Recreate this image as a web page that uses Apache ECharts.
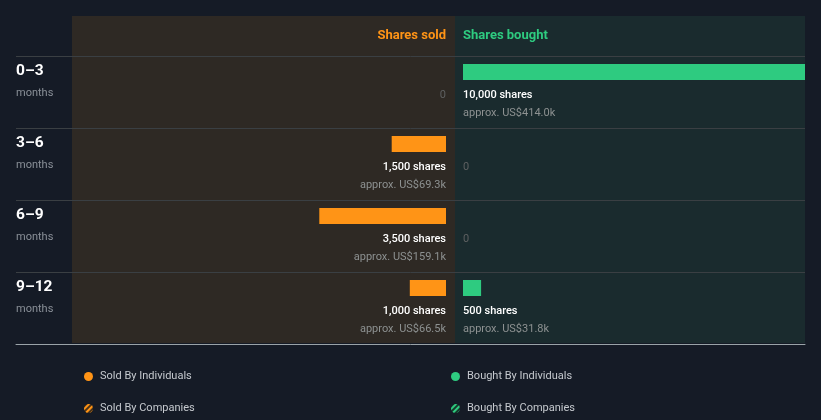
<!DOCTYPE html>
<html>
<head>
<meta charset="utf-8">
<script src="https://cdn.jsdelivr.net/npm/echarts@6/dist/echarts.min.js"></script>
<style>
html,body{margin:0;padding:0;background:#151b26;}
#c{width:821px;height:420px;}
</style>
</head>
<body>
<div id="c"></div>
<script>
var categories = ['0–3', '3–6', '6–9', '9–12'];
var categorySub = 'months';
var sharesSold = [0, 1500, 3500, 1000];
var usdSoldK = [0, 69.3, 159.1, 66.5];
var sharesBought = [10000, 0, 0, 500];
var usdBoughtK = [414.0, 0, 0, 31.8];
var legendNames = ['Sold By Individuals', 'Bought By Individuals', 'Sold By Companies', 'Bought By Companies'];

var ORANGE = '#ff9416';
var GREEN = '#2ecb80';
var FONT = 'Roboto';

function fmt(n) { return n.toLocaleString('en-US'); }
function labelFmt(shares, usd) {
  return function (p) {
    var i = p.dataIndex;
    if (!shares[i]) return '{z|0}';
    return '{s|' + fmt(shares[i]) + ' shares}\n{a|approx. US$' + usd[i].toFixed(1) + 'k}';
  };
}
var rich = {
  z: { color: '#5e6061', fontSize: 11, lineHeight: 18, fontFamily: FONT },
  s: { color: '#ffffff', fontSize: 11, fontWeight: 500, lineHeight: 18, fontFamily: FONT },
  a: { color: '#8d9191', fontSize: 11, lineHeight: 18, fontFamily: FONT }
};

var chart = echarts.init(document.getElementById('c'), null, { renderer: 'canvas' });
var hidden = { show: false };
chart.setOption({
  animation: false,
  backgroundColor: '#151b26',
  textStyle: { fontFamily: FONT },
  graphic: [
    { type: 'rect', z: -10, shape: { x: 72, y: 16, width: 383, height: 327 }, style: { fill: '#2e2924' } },
    { type: 'rect', z: -10, shape: { x: 455, y: 16, width: 350, height: 327 }, style: { fill: '#1a2b2e' } },
    { type: 'text', z: 5, style: { x: 446, y: 35.5, text: 'Shares sold', fill: ORANGE, font: 'bold 13px Roboto', textAlign: 'right', textVerticalAlign: 'middle' } },
    { type: 'text', z: 5, style: { x: 463, y: 35.5, text: 'Shares bought', fill: GREEN, font: 'bold 13px Roboto', textAlign: 'left', textVerticalAlign: 'middle' } }
  ],
  grid: [
    { left: 16, right: 16, top: 56, height: 288 },
    { left: 84, right: 375, top: 36, height: 288 },
    { left: 463, right: 16, top: 36, height: 288 }
  ],
  xAxis: [
    { gridIndex: 0, type: 'value', z: 3, axisLine: { show: true, lineStyle: { color: '#9aa3a8', width: 1 } }, axisTick: hidden, axisLabel: hidden, splitLine: hidden, minorTick: hidden },
    { gridIndex: 1, type: 'value', inverse: true, min: 0, max: 10000, show: false },
    { gridIndex: 2, type: 'value', min: 0, max: 9448, show: false }
  ],
  yAxis: [
    { gridIndex: 0, type: 'category', inverse: true, data: categories,
      axisLine: hidden, axisTick: hidden,
      splitLine: { show: true, lineStyle: { color: '#3a3f43', width: 1 } },
      axisLabel: { inside: true, margin: 0, align: 'left', padding: [0, 0, 20, 0],
        formatter: function (v) { return '{a|' + v + '}\n{b|' + categorySub + '}'; },
        rich: {
          a: { color: '#ffffff', fontSize: 15.5, fontWeight: 'bold', lineHeight: 22, fontFamily: FONT },
          b: { color: '#8a9098', fontSize: 11, lineHeight: 22, fontFamily: FONT }
        } } },
    { gridIndex: 1, type: 'category', inverse: true, data: categories, show: false },
    { gridIndex: 2, type: 'category', inverse: true, data: categories, show: false }
  ],
  legend: [
    { left: 79, top: 366, data: [legendNames[0]] },
    { left: 446, top: 366, data: [legendNames[1]] },
    { left: 79, top: 398, data: [legendNames[2]] },
    { left: 446, top: 398, data: [legendNames[3]] }
  ].map(function (l) {
    return Object.assign({ icon: 'circle', itemWidth: 13, itemHeight: 9, selectedMode: false,
      textStyle: { color: '#c5c9ce', fontSize: 11, fontFamily: FONT } }, l);
  }),
  series: [
    { name: legendNames[0], type: 'bar', stack: 'sold', xAxisIndex: 1, yAxisIndex: 1, data: sharesSold, barWidth: 16,
      itemStyle: { color: ORANGE },
      label: { show: true, position: ['100%', '100%'], offset: [0, 6], align: 'right', verticalAlign: 'top',
        formatter: labelFmt(sharesSold, usdSoldK), rich: rich } },
    { name: legendNames[1], type: 'bar', stack: 'bought', xAxisIndex: 2, yAxisIndex: 2, data: sharesBought, barWidth: 16,
      itemStyle: { color: GREEN },
      label: { show: true, position: ['0%', '100%'], offset: [0, 6], align: 'left', verticalAlign: 'top',
        formatter: labelFmt(sharesBought, usdBoughtK), rich: rich } },
    { name: legendNames[2], type: 'bar', stack: 'sold', xAxisIndex: 1, yAxisIndex: 1, data: [], barWidth: 16,
      itemStyle: { color: '#4a3318', decal: { symbol: 'rect', color: ORANGE, dashArrayX: [1, 0], dashArrayY: [2, 2], rotation: -Math.PI / 4 } } },
    { name: legendNames[3], type: 'bar', stack: 'bought', xAxisIndex: 2, yAxisIndex: 2, data: [], barWidth: 16,
      itemStyle: { color: '#15382a', decal: { symbol: 'rect', color: GREEN, dashArrayX: [1, 0], dashArrayY: [2, 2], rotation: -Math.PI / 4 } } }
  ]
});
</script>
</body>
</html>
